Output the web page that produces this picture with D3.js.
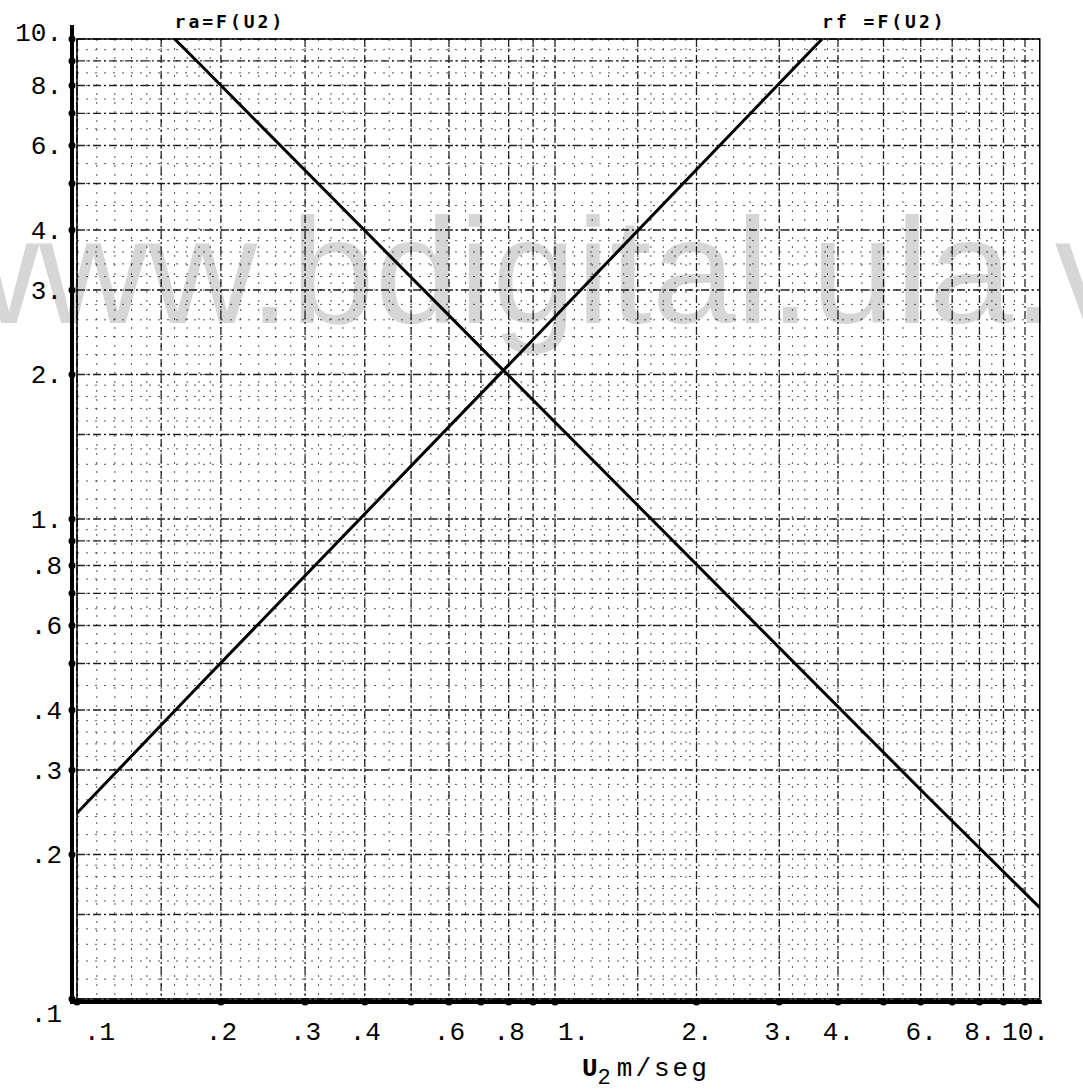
<!DOCTYPE html>
<html>
<head>
<meta charset="utf-8">
<script src="https://cdn.jsdelivr.net/npm/d3@7"></script>
<style>
  body { margin: 0; background: #fff; }
  svg { display: block; }
</style>
</head>
<body>
<div id="chart"></div>
<script>
// Values
const tickValues = [0.1, 0.2, 0.3, 0.4, 0.5, 0.6, 0.7, 0.8, 0.9, 1, 2, 3, 4, 5, 6, 7, 8, 9, 10];
const labelValues = [0.1, 0.2, 0.3, 0.4, 0.6, 0.8, 1, 2, 3, 4, 6, 8, 10];
const labelText = [".1", ".2", ".3", ".4", ".6", ".8", "1.", "2.", "3.", "4.", "6.", "8.", "10."];

// ra = F(U2), falling line
const raU = [0.16, 0.18, 0.78, 6.3, 10.75];
const raVal = [10, 8.9, 2.04, 0.26, 0.155];
// rf = F(U2), rising line
const rfU = [0.1, 0.18, 0.78, 3.7];
const rfVal = [0.244, 0.45, 2.04, 10];

const seriesNames = ["ra=F(U2)", "rf =F(U2)"];

// extent of the printed paper frame
const frameU = [0.1, 10.75];
const frameR = [0.1, 10];

const width = 1083, height = 1091;

const svg = d3.select("#chart").append("svg")
    .attr("width", width)
    .attr("height", height);

// the paper is a two cycle log sheet, cycles are not quite equal
const x = d3.scaleLog().domain([0.1, 1, 10]).range([77, 555, 1025]);
const y = d3.scaleLog().domain([0.1, 1, 10]).range([999, 519, 39]);

const fx0 = x(frameU[0]), fx1 = x(frameU[1]);
const fy0 = y(frameR[0]), fy1 = y(frameR[1]);

// watermark of the scan, sits behind everything
svg.append("text")
    .attr("x", -70)
    .attr("y", 323)
    .attr("font-family", "Liberation Sans, Arial, sans-serif")
    .attr("font-size", 151)
    .attr("fill", "#d6d6d6")
    .text("www.bdigital.ula.ve");

// graph paper lines, finer near the start of each cycle
function paperLines(lo) {
    const minor = [], major = [];
    d3.range(1, 2, 0.1).forEach(v => minor.push(v * lo));
    d3.range(2, 4, 0.2).forEach(v => minor.push(v * lo));
    d3.range(4, 10, 0.5).forEach(v => minor.push(v * lo));
    [1, 1.5, 2, 3, 4, 5, 6, 7, 8, 9].forEach(v => major.push(v * lo));
    return {minor, major};
}
const cyc1 = paperLines(0.1), cyc2 = paperLines(1);
const minorVals = cyc1.minor.concat(cyc2.minor);
const majorVals = cyc1.major.concat(cyc2.major).concat([10]);

const grid = svg.append("g");

grid.selectAll(".vminor").data(minorVals.filter(v => x(v) < fx1)).enter().append("line")
    .attr("x1", d => x(d)).attr("x2", d => x(d))
    .attr("y1", fy1).attr("y2", fy0)
    .attr("stroke", "#111").attr("stroke-width", 1)
    .attr("stroke-dasharray", "2,7").attr("opacity", 0.7);

grid.selectAll(".hminor").data(minorVals).enter().append("line")
    .attr("y1", d => y(d)).attr("y2", d => y(d))
    .attr("x1", fx0).attr("x2", fx1)
    .attr("stroke", "#111").attr("stroke-width", 1)
    .attr("stroke-dasharray", "2,7").attr("opacity", 0.7);

grid.selectAll(".vmajor").data(majorVals.filter(v => x(v) < fx1)).enter().append("line")
    .attr("x1", d => x(d)).attr("x2", d => x(d))
    .attr("y1", fy1).attr("y2", fy0)
    .attr("stroke", "#000").attr("stroke-width", 1.3)
    .attr("stroke-dasharray", "8,3,2,3").attr("opacity", 0.85);

grid.selectAll(".hmajor").data(majorVals).enter().append("line")
    .attr("y1", d => y(d)).attr("y2", d => y(d))
    .attr("x1", fx0).attr("x2", fx1)
    .attr("stroke", "#000").attr("stroke-width", 1.3)
    .attr("stroke-dasharray", "8,3,2,3").attr("opacity", 0.85);

// thin paper frame
svg.append("rect")
    .attr("x", fx0).attr("y", fy1)
    .attr("width", fx1 - fx0).attr("height", fy0 - fy1)
    .attr("fill", "none").attr("stroke", "#000").attr("stroke-width", 1.5);

// heavy hand drawn axes just outside the frame
const axX = fx0 - 5, axY = fy0 + 3;
svg.append("line")
    .attr("x1", axX).attr("x2", axX)
    .attr("y1", y(10) - 14).attr("y2", axY + 2)
    .attr("stroke", "#000").attr("stroke-width", 4);
svg.append("line")
    .attr("x1", axX).attr("x2", fx1 + 2)
    .attr("y1", axY).attr("y2", axY)
    .attr("stroke", "#000").attr("stroke-width", 4);

// tick dots on both axes
svg.selectAll(".ydot").data(tickValues).enter().append("circle")
    .attr("cx", axX).attr("cy", d => y(d)).attr("r", 3.5).attr("fill", "#000");
svg.selectAll(".xdot").data(tickValues).enter().append("circle")
    .attr("cx", d => x(d)).attr("cy", axY).attr("r", 3.5).attr("fill", "#000");

// tick labels through d3 axes, typewriter style
const yAxis = svg.append("g")
    .attr("transform", `translate(${axX},0)`)
    .call(d3.axisLeft(y).tickValues(labelValues)
        .tickFormat((d, i) => labelText[i]).tickSize(0).tickPadding(10));
const xAxis = svg.append("g")
    .attr("transform", `translate(0,${axY})`)
    .call(d3.axisBottom(x).tickValues(labelValues)
        .tickFormat((d, i) => labelText[i]).tickSize(0).tickPadding(20));

[yAxis, xAxis].forEach(g => {
    g.select(".domain").remove();
    g.selectAll("text")
        .attr("font-family", "Liberation Mono, DejaVu Sans Mono, monospace")
        .attr("font-size", 26)
        .attr("fill", "#000");
});
// keep the two ".1" labels clear of the corner
yAxis.selectAll("text").filter(d => d === 0.1).attr("dy", "0.85em");
yAxis.selectAll("text").filter(d => d === 10).attr("dy", "0.05em");
xAxis.selectAll("text").filter(d => d === 0.1).attr("dx", 22);
xAxis.selectAll("text").filter(d => d === 1).attr("dx", 18);

// the two curves, clipped to the paper
svg.append("clipPath").attr("id", "paper")
    .append("rect")
    .attr("x", fx0).attr("y", fy1)
    .attr("width", fx1 - fx0).attr("height", fy0 - fy1);

const line = d3.line()
    .x(d => x(d[0]))
    .y(d => y(d[1]));

const raData = raU.map((u, i) => [u, raVal[i]]);
const rfData = rfU.map((u, i) => [u, rfVal[i]]);

[raData, rfData].forEach(data => {
    svg.append("path")
        .datum(data)
        .attr("clip-path", "url(#paper)")
        .attr("fill", "none")
        .attr("stroke", "#000")
        .attr("stroke-width", 3)
        .attr("d", line);
});

// curve names typed above the top end of each line
[[raData[0], seriesNames[0]], [rfData[rfData.length - 1], seriesNames[1]]].forEach(([p, name]) => {
    svg.append("text")
        .attr("x", x(p[0]))
        .attr("y", y(10) - 11)
        .attr("font-family", "DejaVu Sans Mono, monospace")
        .attr("font-size", 18)
        .attr("font-weight", "bold")
        .attr("letter-spacing", 3)
        .attr("fill", "#000")
        .text(name);
});

// x axis title
const xt = svg.append("text")
    .attr("x", x(1) + 27)
    .attr("y", 1076)
    .attr("font-family", "Liberation Mono, DejaVu Sans Mono, monospace")
    .attr("font-size", 26)
    .attr("fill", "#000");
xt.append("tspan").attr("font-weight", "bold").text("U");
xt.append("tspan").attr("dy", 8).attr("font-size", 22).text("2");
xt.append("tspan").attr("dy", -8).attr("dx", 6).attr("letter-spacing", 3).text("m/seg");
</script>
</body>
</html>
